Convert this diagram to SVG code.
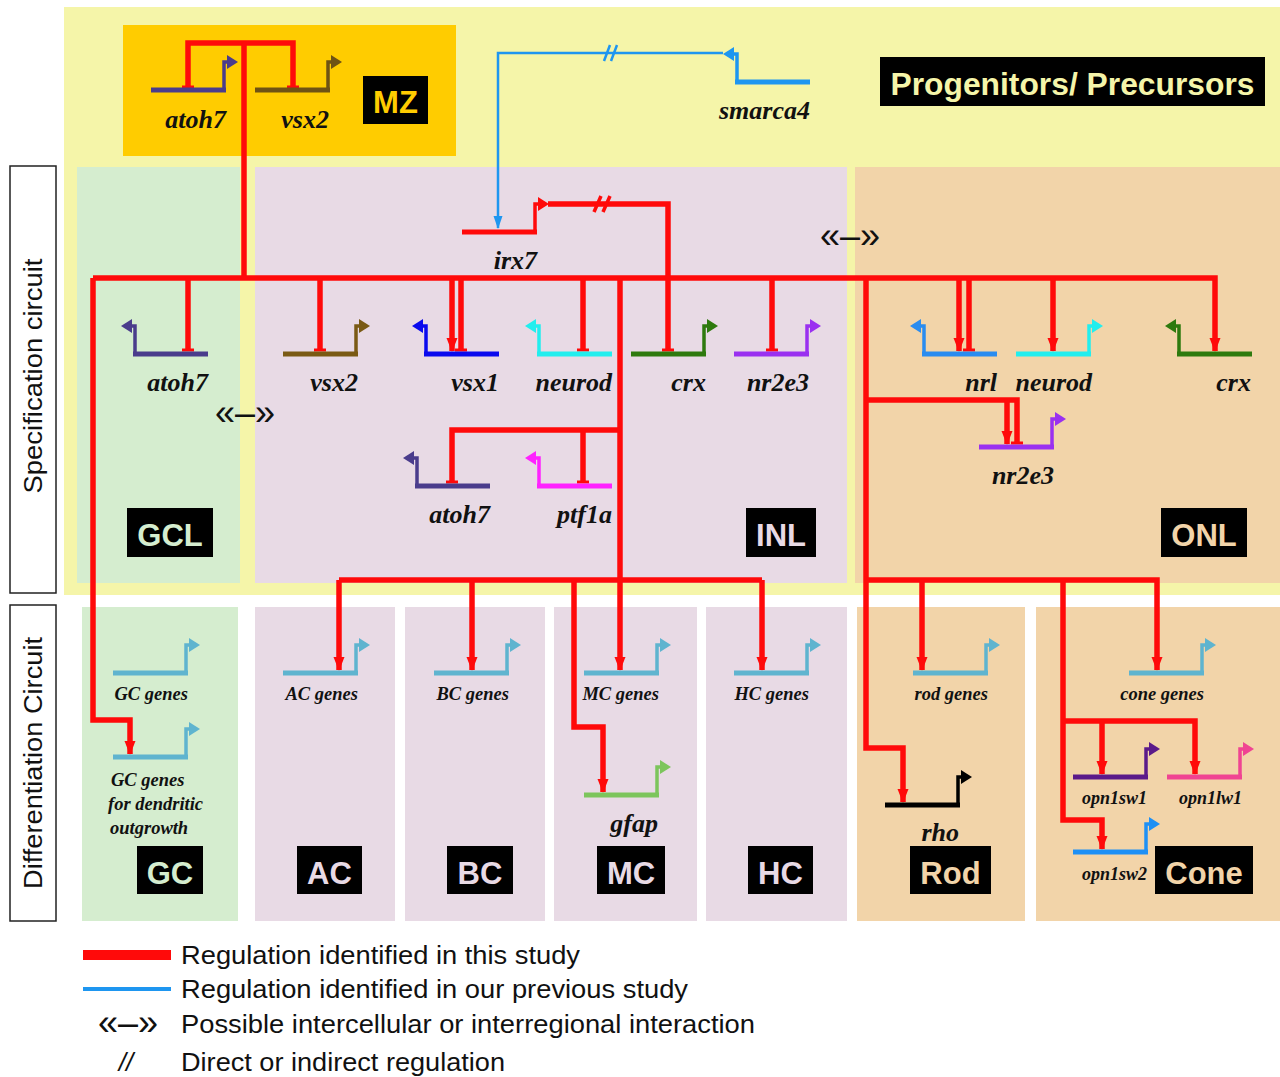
<svg xmlns="http://www.w3.org/2000/svg" xmlns:xlink="http://www.w3.org/1999/xlink" width="1280" height="1077" viewBox="0 0 1280 1077">
<style>
.gl{font-family:"Liberation Serif","Times New Roman",serif;font-weight:bold;font-style:italic;font-size:26px;text-anchor:end;fill:#111}
.gs{font-size:18.5px}
.gx{font-size:18px}
.bx{font-family:"Liberation Sans",Arial,sans-serif;font-weight:bold;font-size:31px;text-anchor:middle}
.red{fill:none;stroke:#FF0A0A;stroke-width:5.5}
.rA{marker-end:url(#ah)}
.rT{marker-end:url(#tb)}
.sl{stroke:#FF0A0A;stroke-width:3.5;fill:none}
.lg{font-family:"Liberation Sans",Arial,sans-serif;font-size:26px;fill:#111}
.ch{font-family:"Liberation Sans",Arial,sans-serif;font-size:36px;text-anchor:middle;fill:#111}
.vl{font-family:"Liberation Sans",Arial,sans-serif;font-size:26px;text-anchor:middle;fill:#111}
</style>
<defs>
<g id="gR"><path d="M0,0H75" stroke="currentColor" stroke-width="5" fill="none"/><path d="M73,0V-28H77" stroke="currentColor" stroke-width="3.5" fill="none"/><path d="M76,-35L87,-28L76,-21Z" fill="currentColor"/></g>
<g id="gL"><path d="M0,0H75" stroke="currentColor" stroke-width="5" fill="none"/><path d="M2,0V-28H-2" stroke="currentColor" stroke-width="3.5" fill="none"/><path d="M-1,-35L-12,-28L-1,-21Z" fill="currentColor"/></g>
<marker id="ah" markerUnits="userSpaceOnUse" orient="auto" markerWidth="20" markerHeight="20" viewBox="-15 -10 20 20" refX="0" refY="0"><path d="M-13,-5.5L1,0L-13,5.5Z" fill="#FF0A0A"/></marker>
<marker id="tb" markerUnits="userSpaceOnUse" orient="auto" markerWidth="20" markerHeight="20" viewBox="-10 -10 20 20" refX="0" refY="0"><path d="M-1.5,-6H1.5V6H-1.5Z" fill="#FF0A0A"/></marker>
<marker id="ahb" markerUnits="userSpaceOnUse" orient="auto" markerWidth="20" markerHeight="20" viewBox="-15 -10 20 20" refX="0" refY="0"><path d="M-12,-4.5L1,0L-12,4.5Z" fill="#1E96F0"/></marker>
</defs>
<rect width="1280" height="1077" fill="#FFFFFF"/>

<g id="regions">
<rect id="progenitors-bg" x="64" y="7" width="1216" height="588" fill="#F5F5A9"/>
<rect x="123" y="25" width="333" height="131" fill="#FFCC00"/>
<rect x="77" y="167" width="163" height="416" fill="#D5EDCF"/>
<rect x="255" y="167" width="592" height="416" fill="#E8DAE5"/>
<rect x="855" y="167" width="425" height="416" fill="#F2D4A9"/>
<rect x="82" y="607" width="156" height="314" fill="#D5EDCF"/>
<rect x="255" y="607" width="140" height="314" fill="#E8DAE5"/>
<rect x="405" y="607" width="140" height="314" fill="#E8DAE5"/>
<rect x="554" y="607" width="143" height="314" fill="#E8DAE5"/>
<rect x="706" y="607" width="141" height="314" fill="#E8DAE5"/>
<rect x="857" y="607" width="168" height="314" fill="#F2D4A9"/>
<rect x="1036" y="607" width="244" height="314" fill="#F2D4A9"/>
</g>

<g id="side-labels">
<rect x="10" y="166" width="46" height="427" fill="#FFFFFF" stroke="#222" stroke-width="1.5"/>
<text class="vl" transform="translate(42,376) rotate(-90)" textLength="235" lengthAdjust="spacingAndGlyphs">Specification circuit</text>
<rect x="10" y="605" width="46" height="316" fill="#FFFFFF" stroke="#222" stroke-width="1.5"/>
<text class="vl" transform="translate(42,763) rotate(-90)" textLength="252" lengthAdjust="spacingAndGlyphs">Differentiation Circuit</text>
</g>

<g id="box-labels">
<g id="lbl-MZ"><rect x="363" y="76" width="65" height="48" fill="#000"/><text class="bx" x="395.5" y="113" fill="#FFCC00">MZ</text></g>
<g id="lbl-progenitors"><rect x="880" y="57" width="385" height="49" fill="#000"/><text class="bx" x="1072.5" y="95" fill="#F5F5A9" textLength="364" lengthAdjust="spacingAndGlyphs">Progenitors/ Precursors</text></g>
<g id="lbl-GCL"><rect x="127" y="508" width="86" height="49" fill="#000"/><text class="bx" x="170" y="546" fill="#D5EDCF">GCL</text></g>
<g id="lbl-INL"><rect x="746" y="508" width="70" height="49" fill="#000"/><text class="bx" x="781" y="546" fill="#E8DAE5">INL</text></g>
<g id="lbl-ONL"><rect x="1161" y="508" width="86" height="49" fill="#000"/><text class="bx" x="1204" y="546" fill="#F2D4A9">ONL</text></g>
<g id="lbl-GC"><rect x="137" y="846" width="66" height="48" fill="#000"/><text class="bx" x="170" y="884" fill="#D5EDCF">GC</text></g>
<g id="lbl-AC"><rect x="297" y="846" width="65" height="48" fill="#000"/><text class="bx" x="329.5" y="884" fill="#E8DAE5">AC</text></g>
<g id="lbl-BC"><rect x="447" y="846" width="66" height="48" fill="#000"/><text class="bx" x="480" y="884" fill="#E8DAE5">BC</text></g>
<g id="lbl-MC"><rect x="597" y="846" width="68" height="48" fill="#000"/><text class="bx" x="631" y="884" fill="#E8DAE5">MC</text></g>
<g id="lbl-HC"><rect x="748" y="846" width="65" height="48" fill="#000"/><text class="bx" x="780.5" y="884" fill="#E8DAE5">HC</text></g>
<g id="lbl-Rod"><rect x="910" y="846" width="81" height="48" fill="#000"/><text class="bx" x="950.5" y="884" fill="#F2D4A9">Rod</text></g>
<g id="lbl-Cone"><rect x="1155" y="846" width="98" height="48" fill="#000"/><text class="bx" x="1204" y="884" fill="#F2D4A9">Cone</text></g>
</g>

<g id="connectors">
<path class="red" d="M188,87V43H293V87" marker-start="url(#tb)" marker-end="url(#tb)"/>
<path class="red" d="M244,43V278"/>
<path class="red rA" d="M93,278H1215V351"/>
<path class="red rA" d="M93,278V720H130V754"/>
<path class="red rT" d="M188,278V350"/>
<path class="red rT" d="M320,278V350"/>
<path class="red rA" d="M452,278V351"/>
<path class="red rT" d="M461,278V350"/>
<path class="red rT" d="M583,278V350"/>
<path class="red rT" d="M548,204H668V350"/>
<path class="sl" d="M594,212L601,196M603,212L610,196"/>
<path class="red rT" d="M772,278V350"/>
<path class="red" d="M620,278V580"/>
<path class="red rT" d="M620,430H452V482"/>
<path class="red rT" d="M583,430V482"/>
<path class="red" d="M339,580H762"/>
<path class="red rA" d="M339,580V670"/>
<path class="red rA" d="M472,580V670"/>
<path class="red rA" d="M620,580V670"/>
<path class="red rA" d="M762,580V670"/>
<path class="red rA" d="M574,580V727H603V792"/>
<path class="red rA" d="M959,278V351"/>
<path class="red rT" d="M969,278V350"/>
<path class="red rA" d="M1053,278V351"/>
<path class="red rA" d="M866,278V748H903V802"/>
<path class="red rT" d="M866,400H1017V443"/>
<path class="red rA" d="M1007,400V444"/>
<path class="red rA" d="M866,580H1157V670"/>
<path class="red rA" d="M922,580V670"/>
<path class="red rA" d="M1063,580V820H1102V849"/>
<path class="red rA" d="M1063,721H1195V774"/>
<path class="red rA" d="M1102,721V774"/>
<path d="M723,53H498V228" fill="none" stroke="#1E96F0" stroke-width="2.5" marker-end="url(#ahb)"/>
<path d="M604,61L610,45M611,61L617,45" fill="none" stroke="#1E96F0" stroke-width="2.5"/>
</g>

<g id="genes">
<g id="mz-atoh7"><use href="#gR" x="151" y="90" color="#4A3C8C"/><text class="gl" x="226" y="128">atoh7</text></g>
<g id="mz-vsx2"><use href="#gR" x="255" y="90" color="#6E5214"/><text class="gl" x="329" y="128">vsx2</text></g>
<g id="smarca4"><use href="#gL" x="735" y="82" color="#1E96F0"/><text class="gl" x="810" y="119">smarca4</text></g>
<g id="irx7"><use href="#gR" x="462" y="232" color="#FF0A0A"/><text class="gl" x="537" y="269">irx7</text></g>
<g id="gcl-atoh7"><use href="#gL" x="133" y="354" color="#4A3C8C"/><text class="gl" x="208" y="391">atoh7</text></g>
<g id="inl-vsx2"><use href="#gR" x="283" y="354" color="#7A5A14"/><text class="gl" x="358" y="391">vsx2</text></g>
<g id="inl-vsx1"><use href="#gL" x="424" y="354" color="#0A0AEE"/><text class="gl" x="499" y="391">vsx1</text></g>
<g id="inl-neurod"><use href="#gL" x="537" y="354" color="#22EEEE"/><text class="gl" x="612" y="391">neurod</text></g>
<g id="inl-crx"><use href="#gR" x="631" y="354" color="#2E7A0E"/><text class="gl" x="706" y="391">crx</text></g>
<g id="inl-nr2e3"><use href="#gR" x="734" y="354" color="#9A30F0"/><text class="gl" x="809" y="391">nr2e3</text></g>
<g id="inl-atoh7"><use href="#gL" x="415" y="486" color="#4A3C8C"/><text class="gl" x="490" y="523">atoh7</text></g>
<g id="inl-ptf1a"><use href="#gL" x="537" y="486" color="#FF22FF"/><text class="gl" x="612" y="523">ptf1a</text></g>
<g id="onl-nrl"><use href="#gL" x="922" y="354" color="#2A8CF0"/><text class="gl" x="997" y="391">nrl</text></g>
<g id="onl-neurod"><use href="#gR" x="1016" y="354" color="#22EEEE"/><text class="gl" x="1092" y="391">neurod</text></g>
<g id="onl-crx"><use href="#gL" x="1177" y="354" color="#2E7A0E"/><text class="gl" x="1251" y="391">crx</text></g>
<g id="onl-nr2e3"><use href="#gR" x="979" y="447" color="#9A30F0"/><text class="gl" x="1054" y="484">nr2e3</text></g>

<g id="gc-genes"><use href="#gR" x="113" y="673" color="#5FB4CF"/><text class="gl gs" x="188" y="700">GC genes</text></g>
<g id="gc-dendritic"><use href="#gR" x="113" y="757" color="#5FB4CF"/><text class="gl gs" style="text-anchor:start" x="111" y="786">GC genes</text><text class="gl gs" style="text-anchor:start" x="108" y="810">for dendritic</text><text class="gl gs" style="text-anchor:start" x="110" y="834">outgrowth</text></g>
<g id="ac-genes"><use href="#gR" x="283" y="673" color="#5FB4CF"/><text class="gl gs" x="358" y="700">AC genes</text></g>
<g id="bc-genes"><use href="#gR" x="434" y="673" color="#5FB4CF"/><text class="gl gs" x="509" y="700">BC genes</text></g>
<g id="mc-genes"><use href="#gR" x="584" y="673" color="#5FB4CF"/><text class="gl gs" x="659" y="700">MC genes</text></g>
<g id="gfap"><use href="#gR" x="584" y="795" color="#7CC55C"/><text class="gl" x="658" y="832">gfap</text></g>
<g id="hc-genes"><use href="#gR" x="734" y="673" color="#5FB4CF"/><text class="gl gs" x="809" y="700">HC genes</text></g>
<g id="rod-genes"><use href="#gR" x="913" y="673" color="#5FB4CF"/><text class="gl gs" x="988" y="700">rod genes</text></g>
<g id="cone-genes"><use href="#gR" x="1129" y="673" color="#5FB4CF"/><text class="gl gs" x="1204" y="700">cone genes</text></g>
<g id="rho"><use href="#gR" x="885" y="805" color="#000000"/><text class="gl" x="959" y="841">rho</text></g>
<g id="opn1sw1"><use href="#gR" x="1073" y="777" color="#5B1A8A"/><text class="gl gx" x="1147" y="804">opn1sw1</text></g>
<g id="opn1lw1"><use href="#gR" x="1167" y="777" color="#F04492"/><text class="gl gx" x="1242" y="804">opn1lw1</text></g>
<g id="opn1sw2"><use href="#gR" x="1073" y="852" color="#1E90F5"/><text class="gl gx" x="1147" y="880">opn1sw2</text></g>
</g>

<g id="interactions">
<text class="ch" x="850" y="248">«–»</text>
<text class="ch" x="245" y="425">«–»</text>
</g>

<g id="legend">
<rect x="83" y="950" width="88" height="10" fill="#FF0A0A"/>
<text class="lg" x="181" y="964" textLength="399" lengthAdjust="spacingAndGlyphs">Regulation identified in this study</text>
<rect x="83" y="987" width="88" height="4" fill="#1E96F0"/>
<text class="lg" x="181" y="998" textLength="507" lengthAdjust="spacingAndGlyphs">Regulation identified in our previous study</text>
<text class="ch" x="128" y="1035">«–»</text>
<text class="lg" x="181" y="1033" textLength="574" lengthAdjust="spacingAndGlyphs">Possible intercellular or interregional interaction</text>
<text class="lg" x="126" y="1071" style="font-style:italic;text-anchor:middle">//</text>
<text class="lg" x="181" y="1071" textLength="324" lengthAdjust="spacingAndGlyphs">Direct or indirect regulation</text>
</g>
</svg>
